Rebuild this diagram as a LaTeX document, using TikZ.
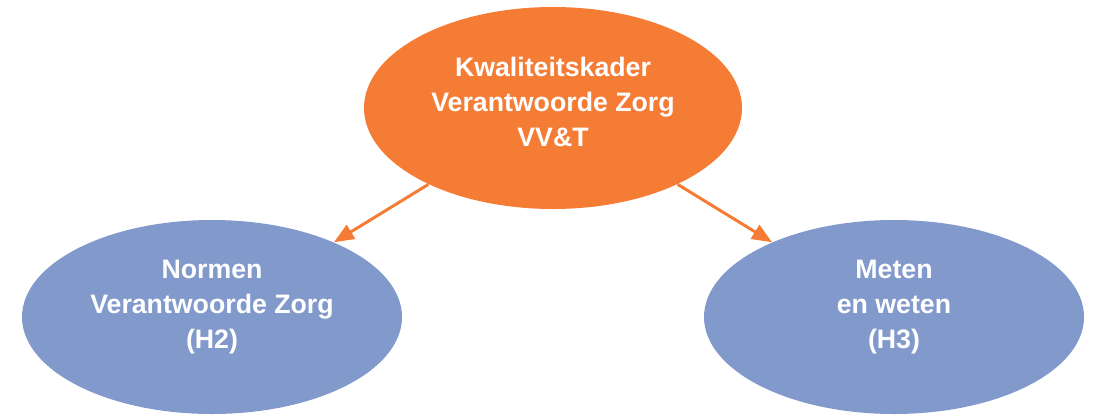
\documentclass[tikz,border=0pt]{standalone}
\usepackage{fontspec}
\setmainfont{Liberation Sans}
\usepackage{tikz}
\usetikzlibrary{shapes.geometric,arrows.meta}
\definecolor{kaderoranje}{RGB}{244,124,53}
\definecolor{subblauw}{RGB}{130,153,204}
\tikzset{
    node style kader/.style={ellipse,fill=kaderoranje,inner sep=0pt,minimum width=7.56cm,minimum height=4.04cm},
    node style sub/.style={ellipse,fill=subblauw,inner sep=0pt,minimum width=7.6cm,minimum height=3.88cm},
    node style txt/.style={text=white,align=center,font=\fontsize{15.2}{19.9}\selectfont\bfseries},
    arrow style pijl/.style={draw=kaderoranje,line width=1.7pt},
}

\begin{document}
\begin{tikzpicture}[>={Triangle[length=0.4cm,width=0.32cm]}]
\useasboundingbox (0,0) rectangle (21.98,8.30);

\node [node style kader] (kader) at (11.06,6.14) {};
\node [node style sub] (normen) at (4.24,1.96) {};
\node [node style sub] (meten) at (17.88,1.96) {};

\node [node style txt] (kadertxt) at (11.06,6.26) {Kwaliteitskader\\Verantwoorde Zorg\\VV\&T};
\node [node style txt] (normentxt) at (4.24,2.16) {Normen\\Verantwoorde Zorg\\(H2)};
\node [node style txt] (metentxt) at (17.88,2.16) {Meten\\en weten\\(H3)};

\draw [arrow style pijl,->] (kader) -- (normen);
\draw [arrow style pijl,->] (kader) -- (meten);

\end{tikzpicture}
\end{document}
